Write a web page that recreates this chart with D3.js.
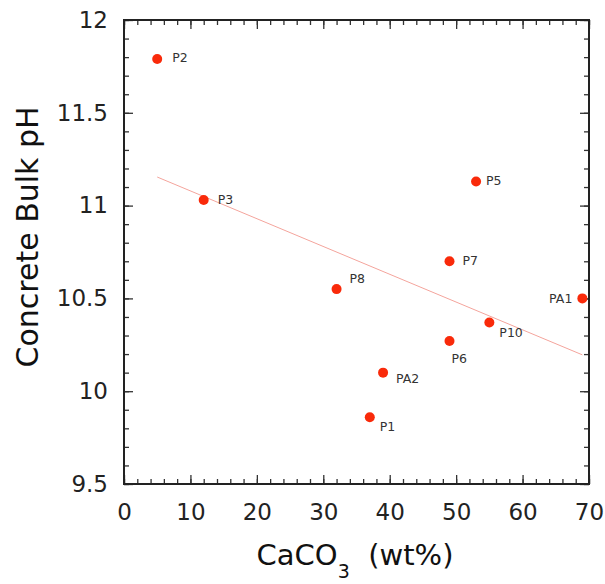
<!DOCTYPE html>
<html>
<head>
<meta charset="utf-8">
<script src="https://cdnjs.cloudflare.com/ajax/libs/d3/7.8.5/d3.min.js"></script>
<style>
  body { margin: 0; background: white; }
  text { font-family: "DejaVu Sans", sans-serif; }
</style>
</head>
<body>
<script>
// samples: CaCO3 content vs bulk pH
var names = ['P2', 'P3', 'P5', 'P7', 'P8', 'PA1', 'P10', 'P6', 'PA2', 'P1'];
var caco3 = [5, 12, 53, 49, 32, 69, 55, 49, 39, 37];
var ph = [11.79, 11.03, 11.13, 10.70, 10.55, 10.50, 10.37, 10.27, 10.10, 9.86];

var xTicks = [0, 10, 20, 30, 40, 50, 60, 70];
var yTicks = [9.5, 10, 10.5, 11, 11.5, 12];

// where each label sits relative to its dot
var labelPos = {
  P2: [15, 3, 'start'], P3: [14, 4, 'start'], P5: [10, 4, 'start'],
  P7: [13, 4, 'start'], P8: [13, -6, 'start'], PA1: [-10, 5, 'end'],
  P10: [10, 14, 'start'], P6: [2, 22, 'start'], PA2: [13, 10, 'start'],
  P1: [10, 14, 'start']
};

var opts = {
  width: 605,
  height: 584,
  left: 124,
  right: 589,
  top: 20,
  bottom: 484
};

var svg = d3.select('body').append('svg')
  .attr('width', opts.width)
  .attr('height', opts.height);

var x = d3.scaleLinear().domain([0, 70]).range([opts.left, opts.right]);
var y = d3.scaleLinear().domain([9.5, 12]).range([opts.bottom, opts.top]);

var xMinor = d3.range(0, 70.01, 2);
var yMinor = d3.range(9.5, 12.001, 0.1);

var tickColor = '#333';

// ticks point inward on all four sides
var addAxis = function(axis, transform) {
  var g = svg.append('g').attr('transform', transform).call(axis);
  g.select('.domain').remove();
  g.selectAll('line').attr('stroke', tickColor).attr('stroke-width', 1.3);
  return g;
};

addAxis(d3.axisBottom(x).tickValues(xMinor).tickSize(-5).tickFormat(''), 'translate(0,' + opts.bottom + ')');
addAxis(d3.axisTop(x).tickValues(xMinor).tickSize(-5).tickFormat(''), 'translate(0,' + opts.top + ')');
addAxis(d3.axisLeft(y).tickValues(yMinor).tickSize(-5).tickFormat(''), 'translate(' + opts.left + ',0)');
addAxis(d3.axisRight(y).tickValues(yMinor).tickSize(-5).tickFormat(''), 'translate(' + opts.right + ',0)');

var xAxis = addAxis(d3.axisBottom(x).tickValues(xTicks).tickSize(-9).tickPadding(20).tickFormat(d3.format('d')), 'translate(0,' + opts.bottom + ')');
addAxis(d3.axisTop(x).tickValues(xTicks).tickSize(-9).tickFormat(''), 'translate(0,' + opts.top + ')');
var yAxis = addAxis(d3.axisLeft(y).tickValues(yTicks).tickSize(-9).tickPadding(16).tickFormat(function(d) { return String(d); }), 'translate(' + opts.left + ',0)');
addAxis(d3.axisRight(y).tickValues(yTicks).tickSize(-9).tickFormat(''), 'translate(' + opts.right + ',0)');

xAxis.selectAll('text')
  .style('font-family', '"DejaVu Sans", sans-serif')
  .style('font-size', '23px')
  .attr('fill', '#222');
yAxis.selectAll('text')
  .style('font-family', '"DejaVu Sans", sans-serif')
  .style('font-size', '23px')
  .attr('fill', '#222');

// frame
svg.append('rect')
  .attr('x', opts.left)
  .attr('y', opts.top)
  .attr('width', opts.right - opts.left)
  .attr('height', opts.bottom - opts.top)
  .attr('fill', 'none')
  .attr('stroke', '#222')
  .attr('stroke-width', 2);

// least squares fit
var mx = d3.mean(caco3), my = d3.mean(ph);
var sxy = 0, sxx = 0;
for (var i = 0; i < caco3.length; i++) {
  sxy += (caco3[i] - mx) * (ph[i] - my);
  sxx += (caco3[i] - mx) * (caco3[i] - mx);
}
var slope = sxy / sxx;
var fit = function(v) { return my + slope * (v - mx); };
var x0 = d3.min(caco3), x1 = d3.max(caco3);

svg.append('line')
  .attr('x1', x(x0)).attr('y1', y(fit(x0)))
  .attr('x2', x(x1)).attr('y2', y(fit(x1)))
  .attr('stroke', '#f4a49c')
  .attr('stroke-width', 1);

var points = names.map(function(n, i) {
  return { name: n, x: caco3[i], y: ph[i] };
});

svg.selectAll('circle.pt')
  .data(points)
  .enter().append('circle')
  .attr('class', 'pt')
  .attr('cx', function(d) { return x(d.x); })
  .attr('cy', function(d) { return y(d.y); })
  .attr('r', 5)
  .attr('fill', '#f92a0a');

svg.selectAll('text.lbl')
  .data(points)
  .enter().append('text')
  .attr('class', 'lbl')
  .attr('x', function(d) { return x(d.x) + labelPos[d.name][0]; })
  .attr('y', function(d) { return y(d.y) + labelPos[d.name][1]; })
  .attr('text-anchor', function(d) { return labelPos[d.name][2]; })
  .attr('font-size', 12.5)
  .attr('fill', '#333')
  .text(function(d) { return d.name; });

// axis titles
var xt = svg.append('text')
  .attr('x', 355)
  .attr('y', 565)
  .attr('text-anchor', 'middle')
  .attr('font-size', 29)
  .attr('fill', '#111');
xt.append('tspan').text('CaCO');
xt.append('tspan').attr('font-size', 19).attr('dy', 13).text('3');
xt.append('tspan').attr('dy', -13).text('\u00a0\u00a0(wt%)');

svg.append('text')
  .attr('transform', 'translate(38,' + 237 + ') rotate(-90)')
  .attr('text-anchor', 'middle')
  .attr('font-size', 30)
  .attr('fill', '#111')
  .text('Concrete Bulk pH');
</script>
</body>
</html>
